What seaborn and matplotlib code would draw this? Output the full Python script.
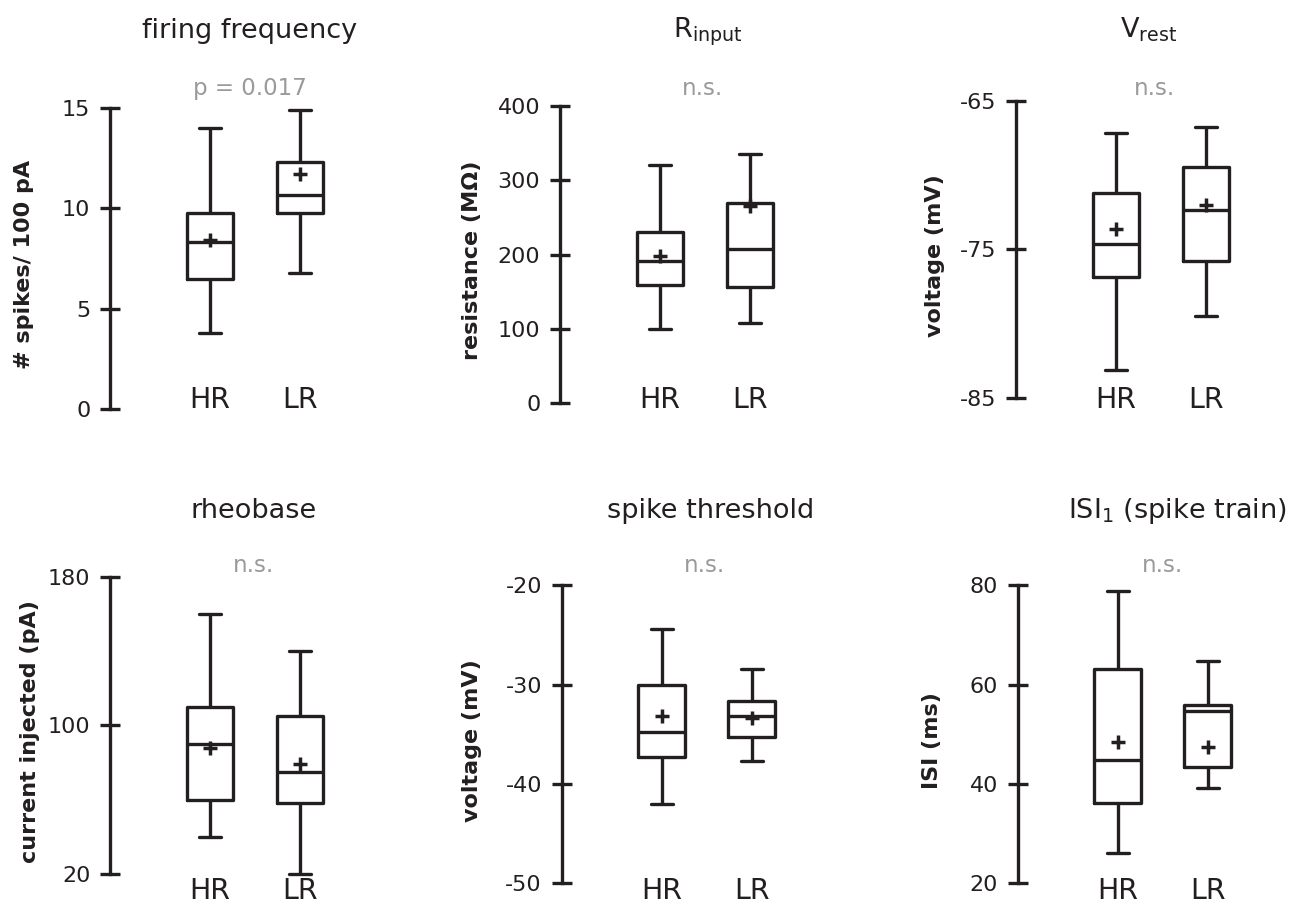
import numpy as np
import pandas as pd
import matplotlib.pyplot as plt
import matplotlib.transforms as mtransforms
import seaborn as sns

# groups
groups = ['HR', 'LR']

# box stats per group: [min, q1, median, q3, max]
freq_hr = [3.8, 6.5, 8.3, 9.75, 14.0]
freq_lr = [6.8, 9.75, 10.65, 12.3, 14.9]
freq_mean = [8.4, 11.7]

rin_hr = [100, 159, 191, 231, 320]
rin_lr = [108, 157, 207, 270, 335]
rin_mean = [198, 265]

vrest_hr = [-83.1, -76.85, -74.6, -71.2, -67.15]
vrest_lr = [-79.5, -75.75, -72.35, -69.45, -66.75]
vrest_mean = [-73.65, -72.0]

rheo_hr = [40, 60, 90, 110, 160]
rheo_lr = [20, 58, 75, 105, 140]
rheo_mean = [88, 79]

thr_hr = [-42.05, -37.25, -34.8, -30.0, -24.4]
thr_lr = [-37.7, -35.3, -33.2, -31.6, -28.4]
thr_mean = [-33.2, -33.4]

isi_hr = [26, 36.1, 44.8, 63.15, 78.9]
isi_lr = [39.25, 43.5, 54.6, 55.8, 64.75]
isi_mean = [48.5, 47.5]

titles = ['firing frequency', r'R$_{\mathregular{input}}$', r'V$_{\mathregular{rest}}$',
          'rheobase', 'spike threshold', r'ISI$_{\mathregular{1}}$ (spike train)']
ylabels = ['# spikes/ 100 pA', 'resistance (M\u03a9)', 'voltage (mV)',
           'current injected (pA)', 'voltage (mV)', 'ISI (ms)']
pvals = ['p = 0.017', 'n.s.', 'n.s.', 'n.s.', 'n.s.', 'n.s.']
yticks = [[0, 5, 10, 15], [0, 100, 200, 300, 400], [-85, -75, -65],
          [20, 100, 180], [-50, -40, -30, -20], [20, 40, 60, 80]]

panels = [(freq_hr, freq_lr, freq_mean), (rin_hr, rin_lr, rin_mean),
          (vrest_hr, vrest_lr, vrest_mean), (rheo_hr, rheo_lr, rheo_mean),
          (thr_hr, thr_lr, thr_mean), (isi_hr, isi_lr, isi_mean)]

# layout in pixels: spine x, top tick y, bottom tick y
W, H = 1294, 905
boxes_px = [(110, 108, 409), (560, 106, 403.3), (1016, 100.7, 398.3),
            (110, 576.7, 874), (561.7, 585.3, 883.3), (1017.7, 585.3, 883.3)]
label_gap = [76, 78, 71, 70, 80, 76]
title_x = [0.44, 0.53, 0.36, 0.48, 0.54, 0.66]
note_x = [0.44, 0.47, 0.43, 0.48, 0.48, 0.50]
title_base = [38, 38, 38, 518, 518, 518]
note_base = [95, 95, 95, 572, 572, 572]
xlab_base = [408, 408, 408, 898.5, 898.5, 898.5]

dark = '#231f20'
grey = '#9a9a9a'
lw = 2.4
ax_w = 260
unit = 90.0

sns.set_style('ticks')
plt.rcParams['font.family'] = ['DejaVu Sans']
plt.rcParams['mathtext.default'] = 'regular'
plt.rcParams['axes.unicode_minus'] = False

fig = plt.figure(figsize=(W / 100, H / 100), dpi=100)

for i, (hr, lr, means) in enumerate(panels):
    x0, ytop, ybot = boxes_px[i]
    ax = fig.add_axes([x0 / W, 1 - ybot / H, ax_w / W, (ybot - ytop) / H])
    df = pd.DataFrame({'group': ['HR'] * len(hr) + ['LR'] * len(lr), 'value': hr + lr})
    sns.boxplot(data=df, x='group', y='value', order=groups, ax=ax, width=0.52,
                whis=(0, 100), showfliers=False, fill=False, color=dark,
                linewidth=lw, capwidths=0.24)
    sns.scatterplot(x=groups, y=means, ax=ax, marker='+', s=110, color=dark,
                    linewidth=2.5, zorder=5)
    for art in ax.lines + ax.collections + ax.patches:
        art.set_clip_on(False)

    ax.set_ylim(yticks[i][0], yticks[i][-1])
    ax.set_yticks(yticks[i])
    left = -100 / unit
    ax.set_xlim(left, left + ax_w / unit)
    sns.despine(ax=ax, bottom=True)
    ax.spines['left'].set_linewidth(lw)
    ax.spines['left'].set_color(dark)
    ax.tick_params(axis='y', direction='inout', length=14.4, width=lw, color=dark,
                   labelsize=16, pad=7, labelcolor=dark)
    ax.set_xticks([0, 1], groups, va='baseline')
    ax.tick_params(axis='x', length=0, labelsize=20.5, labelcolor=dark,
                   pad=(xlab_base[i] - ybot) * 0.72)
    ax.set_xlabel('')
    ax.set_ylabel(ylabels[i], fontsize=16, fontweight='bold', color=dark)
    ax.yaxis.set_label_coords(-label_gap[i] / ax_w, 0.5 - 6 / (ybot - ytop))

    tr = mtransforms.blended_transform_factory(ax.transData, fig.transFigure)
    ax.text(title_x[i], 1 - title_base[i] / H, titles[i], transform=tr, ha='center',
            va='baseline', fontsize=19.5, color=dark)
    ax.text(note_x[i], 1 - note_base[i] / H, pvals[i], transform=tr, ha='center',
            va='baseline', fontsize=16.5, color=grey)

fig.savefig('out.png', dpi=100)
